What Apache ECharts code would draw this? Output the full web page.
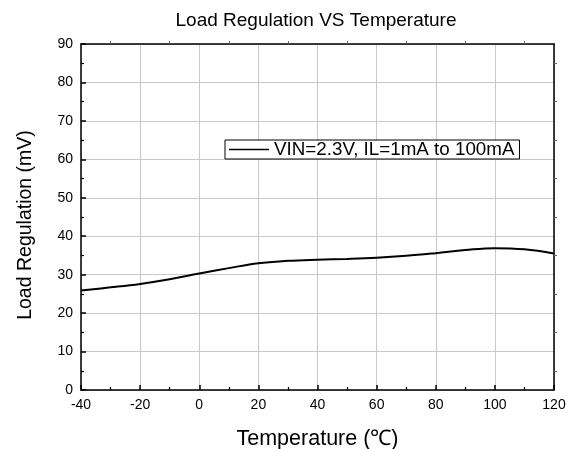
<!DOCTYPE html>
<html><head><meta charset="utf-8">
<script src="https://cdn.jsdelivr.net/npm/echarts@6/dist/echarts.min.js"></script>
<style>html,body{margin:0;padding:0;background:#fff}#c{width:577px;height:449px}</style>
</head><body><div id="c"></div>
<script>
const temperatures = [-40, -30, -20, -10, 0, 10, 20, 30, 40, 50, 60, 70, 80, 90, 100, 110, 120];
const loadRegulation = [25.9, 26.7, 27.6, 28.8, 30.3, 31.7, 33.0, 33.6, 33.9, 34.1, 34.4, 34.9, 35.6, 36.4, 36.9, 36.6, 35.5];
const seriesName = 'VIN=2.3V, IL=1mA to 100mA';
const titleText = 'Load Regulation VS Temperature';
const xName = 'Temperature (\u2103)';
const yName = 'Load Regulation (mV)';

const font = 'Arial, "Liberation Sans", sans-serif';
const chart = echarts.init(document.getElementById('c'), null, {renderer: 'canvas'});
const axisLine = {show: true, onZero: false, lineStyle: {color: '#000', width: 1.5}};
chart.setOption({
  animation: false,
  backgroundColor: '#fff',
  title: {text: titleText, left: 311, top: 6, textAlign: 'center',
    textStyle: {fontFamily: font, fontSize: 19, fontWeight: 'normal', color: '#000'}},
  grid: {left: 81, right: 23, top: 44, bottom: 59, containLabel: false, outerBoundsMode: 'none'},
  legend: {
    data: [seriesName], left: 225, top: 140, orient: 'horizontal',
    backgroundColor: '#fff', borderColor: '#000', borderWidth: 1, borderRadius: 0,
    padding: [0, 5, 0, 4], itemWidth: 40, itemHeight: 16, itemGap: 6,
    icon: 'path://M0,0 L40,0 L40,1.5 L0,1.5 Z',
    textStyle: {fontFamily: font, fontSize: 18.8, color: '#000'}
  },
  xAxis: [{
    type: 'value', min: -40, max: 120, interval: 20,
    name: xName, nameLocation: 'middle', nameGap: 38,
    nameTextStyle: {fontFamily: font, fontSize: 21.5, color: '#000'},
    axisLine: axisLine,
    axisTick: {show: true, inside: true, length: 5, lineStyle: {color: '#000', width: 1.5}},
    minorTick: {show: true, splitNumber: 2, length: 3, lineStyle: {color: '#000', width: 1.2}},
    splitLine: {show: true, lineStyle: {color: '#c8c8c8', width: 1}},
    axisLabel: {fontFamily: font, fontSize: 14, color: '#000', margin: 8}
  }, {
    type: 'value', min: -40, max: 120, interval: 20, position: 'top',
    axisLine: axisLine,
    axisTick: {show: false},
    minorTick: {show: true, splitNumber: 2, length: 3, lineStyle: {color: '#666', width: 1}},
    splitLine: {show: false}, axisLabel: {show: false}
  }],
  yAxis: [{
    type: 'value', min: 0, max: 90, interval: 10,
    name: yName, nameLocation: 'middle', nameGap: 45,
    nameTextStyle: {fontFamily: font, fontSize: 19.5, color: '#000', padding: [0, 16, 0, 0]},
    axisLine: axisLine,
    axisTick: {show: true, inside: true, length: 5, lineStyle: {color: '#000', width: 1.5}},
    minorTick: {show: true, splitNumber: 2, length: 3, lineStyle: {color: '#000', width: 1.2}},
    splitLine: {show: true, lineStyle: {color: '#c8c8c8', width: 1}},
    axisLabel: {fontFamily: font, fontSize: 14, color: '#000', margin: 8}
  }, {
    type: 'value', min: 0, max: 90, interval: 10, position: 'right',
    axisLine: axisLine,
    axisTick: {show: false},
    minorTick: {show: true, splitNumber: 2, length: 3, lineStyle: {color: '#666', width: 1}},
    splitLine: {show: false}, axisLabel: {show: false}
  }],
  series: [{
    name: seriesName, type: 'line', smooth: 0.4, symbol: 'none',
    lineStyle: {color: '#000', width: 2}, itemStyle: {color: '#000'},
    data: temperatures.map((t, i) => [t, loadRegulation[i]])
  }]
});
</script></body></html>
